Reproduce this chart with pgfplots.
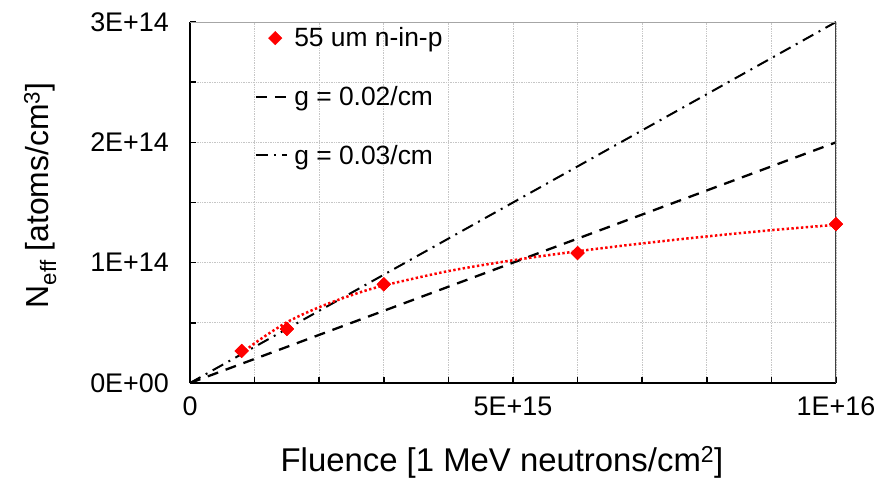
\documentclass[border=0pt]{standalone}
\usepackage{pgfplots}
\pgfplotsset{compat=1.18}
\usepackage{fontspec}
\setmainfont{Liberation Sans}
\pgfplotsset{
  leglineimg/.style={legend image code/.code={\draw[##1] (0cm,0cm) -- (1.1cm,0cm);}},
  legmarkimg/.style={legend image code/.code={\draw[##1] plot coordinates {(0.68cm,0cm)};}},
}
\begin{document}
\begin{tikzpicture}
\path[use as bounding box] (0,0) rectangle (894bp,480bp);
\begin{axis}[
  at={(190bp,97bp)}, anchor=south west,
  scale only axis, width=646bp, height=361bp,
  xmin=0, xmax=1e16, ymin=0, ymax=3e14,
  axis x line*=bottom, axis y line*=left,
  axis line style={-, black, line width=1.8bp},
  scaled ticks=false,
  xtick={0,5e15,1e16}, xticklabels={0,5E+15,1E+16},
  minor xtick={1e15,2e15,3e15,4e15,6e15,7e15,8e15,9e15},
  ytick={0,1e14,2e14,3e14}, yticklabels={0E+00,1E+14,2E+14,3E+14},
  minor ytick={5e13,1.5e14,2.5e14},
  tick align=inside,
  major tick length=6bp, minor tick length=6bp,
  tick style={black, line width=1.5bp},
  grid=both,
  major grid style={gray!45, line width=0.7bp, densely dotted},
  minor grid style={gray!45, line width=0.7bp, densely dotted},
  /pgf/number format/assume math mode=true,
  ticklabel style={font=\fontsize{27}{31}\selectfont},
  xticklabel style={anchor=north, inner sep=0pt, yshift=-14bp},
  yticklabel style={anchor=east, inner sep=0pt, xshift=-21bp},
  xlabel={Fluence [1 MeV neutrons/cm\textsuperscript{2}]},
  ylabel={N\textsubscript{eff} [atoms/cm\textsuperscript{3}]},
  xlabel style={font=\fontsize{33}{38}\selectfont, at={(axis description cs:0.483,-0.219)}, anchor=center},
  ylabel style={font=\fontsize{32}{37}\selectfont, at={(axis description cs:-0.232,0.52)}, anchor=center},
  legend style={at={(axis description cs:0.1,0.99)}, anchor=north west, draw=none, fill=none,
    font=\fontsize{26.5}{30}\selectfont, row sep=34bp, inner sep=0pt,
    nodes={inner sep=2bp}},
  legend cell align=left,
]
% markers (for legend)
\addplot[only marks, mark=square*, mark size=4.8bp, color=red, mark options={rotate=45}, legmarkimg]
  coordinates {(8e14,2.66e13) (1.5e15,4.49e13) (3e15,8.2e13) (6e15,1.08e14) (1e16,1.32e14)};
\addlegendentry{\hspace{4bp}55 um n-in-p}
\addplot[black, line width=2.3bp, dash pattern=on 11bp off 8bp, leglineimg]
  coordinates {(0,0) (1e16,2e14)};
\addlegendentry{\hspace{4bp}g = 0.02/cm}
\addplot[black, line width=2.0bp, dash pattern=on 12bp off 6bp on 2bp off 6bp, leglineimg]
  coordinates {(0,0) (1e16,3e14)};
\addlegendentry{\hspace{4bp}g = 0.03/cm}
% trend line
\addplot[red, smooth, line width=2.5bp, dash pattern=on 2.4bp off 2.4bp, forget plot]
  coordinates {(8e14,2.4e13) (1e15,3.3e13) (1.5e15,5.05e13) (2e15,6.3e13) (2.5e15,7.3e13)
  (3e15,8.1e13) (4e15,9.3e13) (5e15,1.02e14) (6e15,1.095e14) (7e15,1.16e14)
  (8e15,1.218e14) (9e15,1.27e14) (1e16,1.315e14)};
% markers on top
\addplot[only marks, mark=square*, mark size=4.8bp, color=red, mark options={rotate=45}, forget plot]
  coordinates {(8e14,2.66e13) (1.5e15,4.49e13) (3e15,8.2e13) (6e15,1.08e14) (1e16,1.32e14)};
% top and right border
\draw[gray!70, line width=0.8bp] (rel axis cs:0,1) -- (rel axis cs:1,1);
\draw[black!75, line width=1.4bp] (rel axis cs:1,0) -- (rel axis cs:1,1);
\end{axis}
\end{tikzpicture}
\end{document}
